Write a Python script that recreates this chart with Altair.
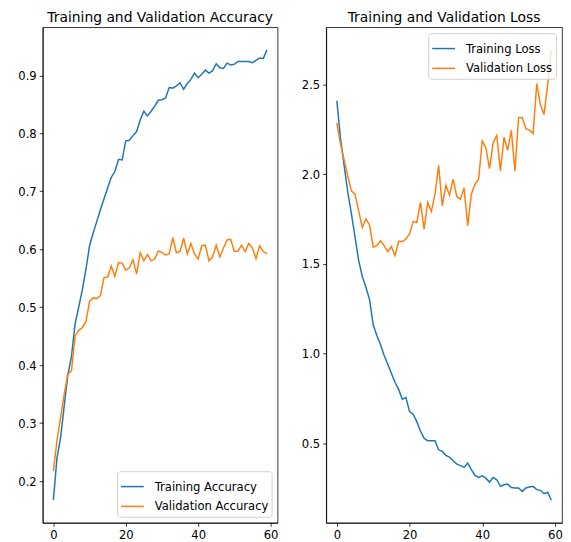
import altair as alt
import pandas as pd

epochs = list(range(60))

train_acc = [0.167, 0.24, 0.275, 0.33, 0.383, 0.415, 0.471, 0.50, 0.53, 0.565,
             0.606, 0.628, 0.648, 0.668, 0.687, 0.706, 0.724, 0.734, 0.755, 0.754,
             0.787, 0.788, 0.796, 0.803, 0.823, 0.838, 0.830, 0.838, 0.847, 0.857,
             0.858, 0.861, 0.879, 0.878, 0.882, 0.887, 0.876, 0.886, 0.893, 0.904,
             0.896, 0.902, 0.909, 0.904, 0.908, 0.920, 0.913, 0.912, 0.921, 0.918,
             0.919, 0.924, 0.924, 0.924, 0.924, 0.922, 0.926, 0.930, 0.929, 0.944]

val_acc = [0.217, 0.27, 0.31, 0.35, 0.385, 0.39, 0.45, 0.46, 0.465, 0.475,
           0.51, 0.516, 0.515, 0.52, 0.551, 0.552, 0.571, 0.553, 0.577, 0.576,
           0.564, 0.568, 0.582, 0.557, 0.594, 0.580, 0.591, 0.580, 0.583, 0.597,
           0.594, 0.590, 0.592, 0.620, 0.594, 0.596, 0.619, 0.592, 0.610, 0.592,
           0.583, 0.606, 0.607, 0.580, 0.587, 0.607, 0.587, 0.602, 0.616, 0.617,
           0.596, 0.597, 0.607, 0.596, 0.610, 0.602, 0.584, 0.606, 0.596, 0.592]

train_loss = [2.41, 2.2, 2.05, 1.9, 1.78, 1.65, 1.52, 1.43, 1.37, 1.3,
              1.16, 1.10, 1.05, 0.99, 0.94, 0.89, 0.84, 0.80, 0.745, 0.754,
              0.676, 0.661, 0.62, 0.568, 0.528, 0.513, 0.513, 0.513, 0.463, 0.454,
              0.432, 0.422, 0.402, 0.383, 0.375, 0.365, 0.389, 0.352, 0.32, 0.309,
              0.318, 0.305, 0.283, 0.309, 0.296, 0.259, 0.268, 0.272, 0.253, 0.25,
              0.25, 0.231, 0.25, 0.255, 0.259, 0.241, 0.237, 0.218, 0.226, 0.182]

val_loss = [2.287, 2.17, 2.08, 1.99, 1.907, 1.889, 1.796, 1.704, 1.75, 1.718,
            1.593, 1.602, 1.629, 1.602, 1.568, 1.597, 1.546, 1.626, 1.624, 1.639,
            1.667, 1.737, 1.731, 1.843, 1.694, 1.843, 1.793, 1.889, 2.05, 1.824,
            1.939, 1.883, 1.972, 1.876, 1.861, 1.924, 1.713, 1.889, 1.944, 1.972,
            2.185, 2.148, 2.031, 2.176, 2.217, 2.019, 2.207, 2.133, 2.246, 2.019,
            2.315, 2.315, 2.254, 2.246, 2.228, 2.506, 2.389, 2.333, 2.5, 2.694]

acc_names = ["Training Accuracy", "Validation Accuracy"]
loss_names = ["Training Loss", "Validation Loss"]
colors = ["#1f77b4", "#ff7f0e"]
x_ticks = [0, 20, 40, 60]

acc_df = pd.DataFrame({
    "epoch": epochs * 2,
    "value": train_acc + val_acc,
    "series": [acc_names[0]] * 60 + [acc_names[1]] * 60,
})
loss_df = pd.DataFrame({
    "epoch": epochs * 2,
    "value": train_loss + val_loss,
    "series": [loss_names[0]] * 60 + [loss_names[1]] * 60,
})

FONT = "DejaVu Sans"
FS = 11.7
H = 500

x_enc = alt.X("epoch:Q", scale=alt.Scale(domain=[-2.95, 61.95], nice=False, zero=False),
              axis=alt.Axis(values=x_ticks, format="d", title=None))

def legend(orient):
    return alt.Legend(title=None, orient=orient, symbolType="stroke", symbolSize=529,
                      symbolStrokeWidth=1.5, labelFontSize=FS, labelFont=FONT,
                      labelColor="black", strokeColor="#d0d0d0",
                      fillColor="rgba(255,255,255,0.8)",
                      cornerRadius=3, padding=3, rowPadding=-8, offset=6,
                      labelOffset=10, labelLimit=300)

acc = alt.Chart(acc_df).mark_line(strokeWidth=1.5).encode(
    x=x_enc,
    y=alt.Y("value:Q", scale=alt.Scale(domain=[0.128, 0.983], nice=False, zero=False),
            axis=alt.Axis(values=[0.2, 0.3, 0.4, 0.5, 0.6, 0.7, 0.8, 0.9], format=".1f", title=None)),
    color=alt.Color("series:N", scale=alt.Scale(domain=acc_names, range=colors),
                    legend=legend("bottom-right")),
).properties(width=237, height=H, title=alt.Title("Training and Validation Accuracy"))

loss = alt.Chart(loss_df).mark_line(strokeWidth=1.5).encode(
    x=x_enc,
    y=alt.Y("value:Q", scale=alt.Scale(domain=[0.056, 2.82], nice=False, zero=False),
            axis=alt.Axis(values=[0.5, 1.0, 1.5, 2.0, 2.5], format=".1f", title=None)),
    color=alt.Color("series:N", scale=alt.Scale(domain=loss_names, range=colors),
                    legend=legend("top-right")),
).properties(width=238, height=H, title=alt.Title("Training and Validation Loss"))

chart = alt.hconcat(acc, loss, spacing=22).resolve_scale(
    color="independent", y="independent"
).resolve_legend(color="independent").configure_view(
    stroke="black", strokeWidth=0.8
).configure_axis(
    grid=False, domainColor="black", domainWidth=0.8, tickColor="black", tickWidth=0.8,
    tickSize=3.5, labelColor="black", labelFont=FONT, labelFontSize=FS, labelPadding=3,
).configure_title(
    font=FONT, fontSize=14, fontWeight="normal", color="black", offset=2
).properties(padding={"left": 9, "top": 0, "right": 0, "bottom": 0})

chart.save("out.html", embed_options={"renderer": "svg", "actions": False})
